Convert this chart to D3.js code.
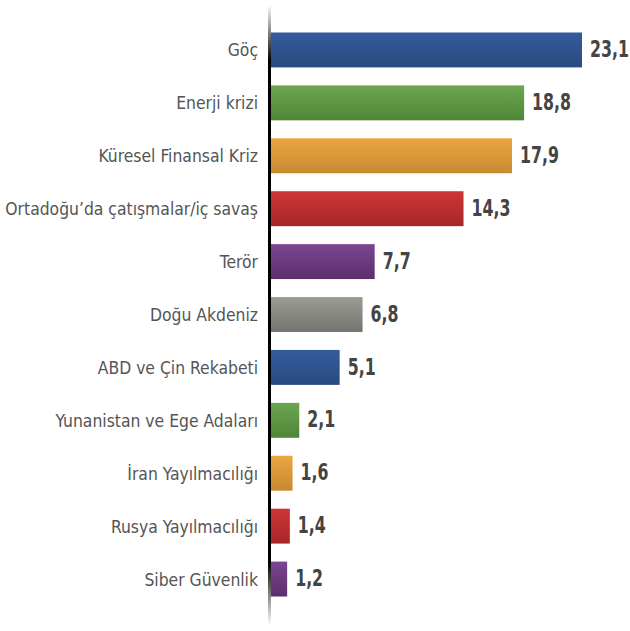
<!DOCTYPE html>
<html>
<head>
<meta charset="utf-8">
<script src="https://cdn.jsdelivr.net/npm/d3@7"></script>
<style>
body { margin: 0; background: #fff; }
text { font-family: "DejaVu Sans Condensed", "DejaVu Sans", sans-serif; }
</style>
</head>
<body>
<div id="chart"></div>
<script>
// data
var categories = ["Göç", "Enerji krizi", "Küresel Finansal Kriz", "Ortadoğu’da çatışmalar/iç savaş",
  "Terör", "Doğu Akdeniz", "ABD ve Çin Rekabeti", "Yunanistan ve Ege Adaları",
  "İran Yayılmacılığı", "Rusya Yayılmacılığı", "Siber Güvenlik"];
var values = [23.1, 18.8, 17.9, 14.3, 7.7, 6.8, 5.1, 2.1, 1.6, 1.4, 1.2];
var valueLabels = ["23,1", "18,8", "17,9", "14,3", "7,7", "6,8", "5,1", "2,1", "1,6", "1,4", "1,2"];

// top / bottom colours of each bar's gradient, cycling
var palette = [
  ["#345c9c", "#284a7f"],
  ["#6ca64f", "#4f8539"],
  ["#eca642", "#c78930"],
  ["#cd3636", "#a72629"],
  ["#7b4691", "#5b2e6b"],
  ["#9b9d95", "#73746e"]
];

var width = 630, height = 631;
var x0 = 271;

var x = d3.scaleLinear()
  .domain([0, 23.1])
  .range([x0, 582]);

var y = d3.scaleBand()
  .domain(categories)
  .range([23.5, 605.5])
  .paddingInner(0.34)
  .paddingOuter(0.17);

var svg = d3.select("#chart").append("svg")
  .attr("width", width)
  .attr("height", height);

var defs = svg.append("defs");
palette.forEach(function(p, i) {
  var g = defs.append("linearGradient")
    .attr("id", "bar" + i)
    .attr("x1", 0).attr("y1", 0).attr("x2", 0).attr("y2", 1);
  g.append("stop").attr("offset", "0%").attr("stop-color", p[0]);
  g.append("stop").attr("offset", "100%").attr("stop-color", p[1]);
});

// axis line fading in and out
var ag = defs.append("linearGradient")
  .attr("id", "axisGrad")
  .attr("gradientUnits", "userSpaceOnUse")
  .attr("x1", 0).attr("y1", 5).attr("x2", 0).attr("y2", 625);
ag.append("stop").attr("offset", "0%").attr("stop-color", "#fff");
ag.append("stop").attr("offset", "9%").attr("stop-color", "#000");
ag.append("stop").attr("offset", "90%").attr("stop-color", "#000");
ag.append("stop").attr("offset", "100%").attr("stop-color", "#fff");

// bars
svg.selectAll(".bar")
  .data(values)
  .enter().append("rect")
    .attr("class", "bar")
    .attr("x", x(0))
    .attr("y", function(d, i) { return y(categories[i]); })
    .attr("width", function(d) { return x(d) - x(0); })
    .attr("height", y.bandwidth())
    .attr("fill", function(d, i) { return "url(#bar" + (i % palette.length) + ")"; });

// axis
svg.append("rect")
  .attr("x", 268)
  .attr("y", 5)
  .attr("width", 3)
  .attr("height", 620)
  .attr("fill", "url(#axisGrad)");

// category labels (narrowed a bit to look like a condensed face)
svg.selectAll(".cat")
  .data(categories)
  .enter().append("text")
    .attr("class", "cat")
    .attr("transform", function(d) {
      return "translate(258," + (y(d) + y.bandwidth() / 2) + ") scale(0.965,1)";
    })
    .attr("dy", "0.36em")
    .attr("text-anchor", "end")
    .attr("font-size", 18)
    .attr("fill", "#555")
    .text(function(d) { return d; });

// value labels
svg.selectAll(".val")
  .data(values)
  .enter().append("text")
    .attr("class", "val")
    .attr("transform", function(d, i) {
      return "translate(" + (x(d) + 8) + "," + (y(categories[i]) + y.bandwidth() / 2 - 1) + ") scale(0.78,1)";
    })
    .attr("dy", "0.36em")
    .attr("font-size", 22.5)
    .attr("font-weight", "bold")
    .attr("fill", "#444")
    .text(function(d, i) { return valueLabels[i]; });
</script>
</body>
</html>
